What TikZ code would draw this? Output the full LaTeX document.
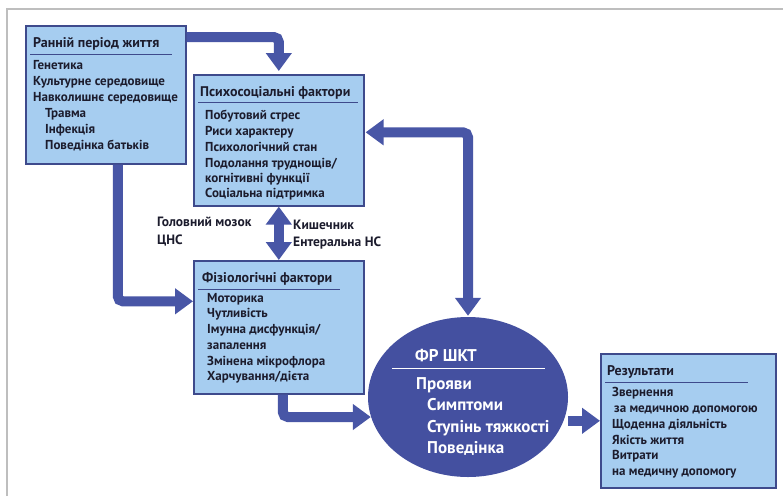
\documentclass[tikz,border=0pt]{standalone}
\usepackage{fontspec}
\setmainfont{PT Sans}
\usetikzlibrary{arrows.meta,shapes.geometric,calc}
\definecolor{boxfill}{RGB}{166,205,240}
\definecolor{boxline}{RGB}{62,74,140}
\definecolor{arrcol}{RGB}{72,86,166}
\definecolor{ellcol}{RGB}{68,80,160}
\definecolor{txt}{RGB}{28,28,45}
\definecolor{frame}{RGB}{190,190,190}
\begin{document}
\begin{tikzpicture}[x=1pt,y=-1pt,
  box/.style={draw=boxline,line width=1.6pt,fill=boxfill,anchor=north west,inner sep=0pt},
  ttl/.style={anchor=base west,font=\bfseries\fontsize{14}{16}\selectfont,text=txt,inner sep=0pt},
  itm/.style={anchor=base west,font=\bfseries\fontsize{13}{15}\selectfont,text=txt,inner sep=0pt},
  eitm/.style={anchor=base west,font=\bfseries\fontsize{17}{19}\selectfont,text=white,inner sep=0pt},
  lbl/.style={anchor=base west,font=\bfseries\fontsize{13.5}{15}\selectfont,text=txt,inner sep=0pt},
  uline/.style={draw=boxline,line width=0.9pt},
  arr/.style={draw=arrcol,line width=10pt,rounded corners=5pt,-{Triangle[width=25pt,length=18pt]}},
  darr/.style={draw=arrcol,line width=10pt,rounded corners=5pt,{Triangle[width=25pt,length=18pt]}-{Triangle[width=25pt,length=18pt]}}
]
\useasboundingbox (0,0) rectangle (783,496);
\fill[white] (0,0) rectangle (783,496);
\draw[frame,line width=1.2pt] (7,496) -- (7,9) -- (783,9);

% boxes
\node[box,minimum width=160pt,minimum height=138pt] (b1) at (25,25) {};
\node[box,minimum width=170pt,minimum height=131pt] (b2) at (193,74) {};
\node[box,minimum width=170pt,minimum height=133pt] (b3) at (193,260) {};
\node[box,minimum width=175pt,minimum height=134pt] (res) at (600,353) {};
\node[ellipse,fill=ellcol,minimum width=200pt,minimum height=160pt,inner sep=0pt] (fr) at (468,397) {};

% box 1
\node[ttl] (t1) at (33,47) {Ранній період життя};
\draw[uline] (30,54) -- (172,54);
\node[itm] (i11) at (33,69) {Генетика};
\node[itm] (i12) at (33,85) {Культурне середовище};
\node[itm] (i13) at (33,101) {Навколишнє середовище};
\node[itm] (i14) at (45,117) {Травма};
\node[itm] (i15) at (45,133) {Інфекція};
\node[itm] (i16) at (45,149) {Поведінка батьків};

% box 2
\node[ttl] (t2) at (200,96) {Психосоціальні фактори};
\draw[uline] (198,102) -- (358,102);
\node[itm] (i21) at (205,119) {Побутовий стрес};
\node[itm] (i22) at (205,135) {Риси характеру};
\node[itm] (i23) at (205,151) {Психологічний стан};
\node[itm] (i24) at (205,167) {Подолання труднощів/};
\node[itm] (i25) at (205,182) {когнітивні функції};
\node[itm] (i26) at (205,197) {Соціальна підтримка};

% box 3
\node[ttl] (t3) at (202,282) {Фізіологічні фактори};
\draw[uline] (198,289) -- (340,289);
\node[itm] (i31) at (207,302) {Моторика};
\node[itm] (i32) at (207,317) {Чутливість};
\node[itm] (i33) at (207,333) {Імунна дисфункція/};
\node[itm] (i34) at (207,349) {запалення};
\node[itm] (i35) at (207,365) {Змінена мікрофлора};
\node[itm] (i36) at (207,380) {Харчування/дієта};

% results
\node[ttl] (t4) at (607,375) {Результати};
\draw[uline] (605,382) -- (748,382);
\node[itm] (i41) at (612,396) {Звернення};
\node[itm] (i42) at (614,412) {за медичною допомогою};
\node[itm] (i43) at (612,428) {Щоденна діяльність};
\node[itm] (i44) at (612,444) {Якість життя};
\node[itm] (i45) at (612,459) {Витрати};
\node[itm] (i46) at (612,475) {на медичну допомогу};

% ellipse text
\node[eitm] (e0) at (415,361) {ФР ШКТ};
\draw[white,line width=1pt] (392,368) -- (545,368);
\node[eitm] (e1) at (416,389) {Прояви};
\node[eitm] (e2) at (427,410) {Симптоми};
\node[eitm] (e3) at (427,432) {Ступінь тяжкості};
\node[eitm] (e4) at (427,453) {Поведінка};

% labels
\node[lbl] (l1) at (157,226) {Головний мозок};
\node[lbl] (l2) at (157,244) {ЦНС};
\node[lbl] (l3) at (293,229) {Кишечник};
\node[lbl] (l4) at (293,246) {Ентеральна НС};

% connectors
\draw[arr,shorten >=3pt] ([yshift=-12pt]b1.north east) -| (b2.north);
\draw[arr] ([xshift=12pt]b1.south) |- ([yshift=26pt]b3.west);
\draw[arr] ([xshift=4pt]b3.south) |- ([xshift=3pt,yshift=-20pt]fr.west);
\draw[arr] (fr.east |- res.west) -- (res.west);
\draw[darr] (b2.south) -- (b3.north);
\draw[darr,shorten >=1pt,shorten <=1pt] ([yshift=8pt]b2.east) -| (fr.north);
\end{tikzpicture}
\end{document}
